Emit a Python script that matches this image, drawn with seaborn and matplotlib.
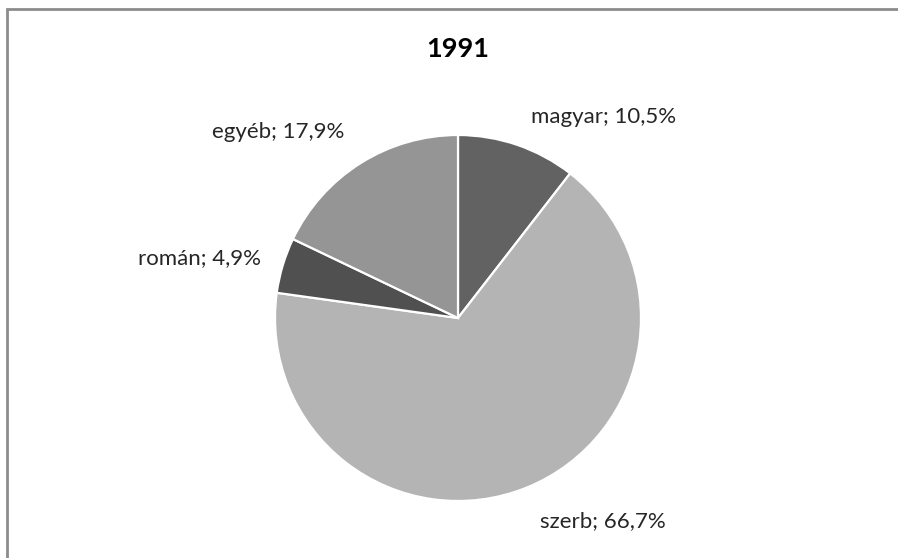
import matplotlib
matplotlib.use("Agg")
import matplotlib.pyplot as plt
import seaborn as sns
from matplotlib.patches import Rectangle

# data
categories = ["magyar", "szerb", "román", "egyéb"]
shares = [10.5, 66.7, 4.9, 17.9]
share_labels = ["10,5%", "66,7%", "4,9%", "17,9%"]
slice_colors = ["#626262", "#b4b4b4", "#505050", "#959595"]
title = "1991"


def main():
    sns.set_theme(style="white")
    plt.rcParams["font.family"] = ["Lato", "DejaVu Sans"]

    fig = plt.figure(figsize=(8.98, 5.58), dpi=100)
    fig.patch.set_facecolor("white")

    # outer chart frame (only top/left edges visible in the crop)
    fig.add_artist(Rectangle((6.5 / 898, -0.1), 1.2, 1.1 - 9 / 558,
                             transform=fig.transFigure, fill=False,
                             edgecolor="#8c8c8c", linewidth=2))

    ax = fig.add_axes([275 / 898, 57 / 558, 366 / 898, 366 / 558])
    ax.pie(shares, colors=slice_colors, startangle=90, counterclock=False,
           wedgeprops=dict(edgecolor="white", linewidth=1.6))
    ax.set_xlim(-1, 1)
    ax.set_ylim(-1, 1)
    ax.set_aspect("equal")
    ax.axis("off")

    # label positions in data units of the pie (radius 1)
    label_pos = [(0.795, 1.098), (0.792, -1.109), (-1.41, 0.328), (-0.981, 1.016)]
    for name, lab, (x, y) in zip(categories, share_labels, label_pos):
        ax.text(x, y, f"{name}; {lab}", ha="center", va="center",
                fontsize=16, color="#262626", clip_on=False)

    fig.text(458 / 898, 1 - 49 / 558, title, ha="center", va="center",
             fontsize=19.5, fontweight="bold", color="#000000")

    fig.savefig("out.png", dpi=100, facecolor="white")
    plt.close(fig)


if __name__ == "__main__":
    main()
